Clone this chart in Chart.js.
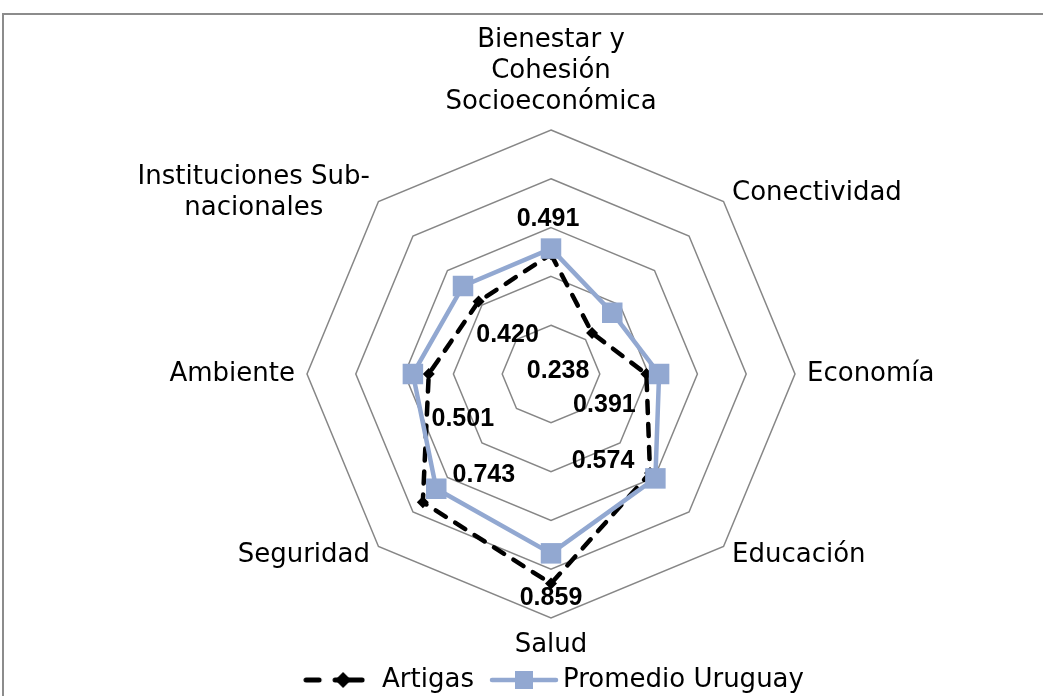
<!DOCTYPE html>
<html lang="es">
<head>
<meta charset="utf-8">
<title>Artigas vs Promedio Uruguay</title>
<script src="https://cdn.jsdelivr.net/npm/chart.js@4/dist/chart.umd.min.js"></script>
<style>
  html, body { margin: 0; padding: 0; background: #fff; overflow: hidden; }
  #chart { display: block; }
</style>
</head>
<body>
<canvas id="chart" width="1043" height="696"></canvas>
<script>
// Datos
const CATEGORIES = [
    ['Bienestar y', 'Cohesión', 'Socioeconómica'],
    'Conectividad',
    'Economía',
    'Educación',
    'Salud',
    'Seguridad',
    'Ambiente',
    ['Instituciones Sub-', 'nacionales']
];
const SERIES_NAMES = ['Artigas', 'Promedio Uruguay'];
const ARTIGAS = [0.491, 0.238, 0.391, 0.574, 0.859, 0.743, 0.501, 0.420];
const PROMEDIO_URUGUAY = [0.514, 0.355, 0.443, 0.605, 0.735, 0.665, 0.566, 0.510];
const SCALE_TICKS = [0, 0.2, 0.4, 0.6, 0.8, 1];

// Estilos
const TEXT_COLOR = '#000';
const GRID_COLOR = '#868686';
const BLUE = '#92A8D1';
const LABEL_FONT = { family: '"DejaVu Sans", sans-serif', size: 26, lineHeight: '31px' };
const LABEL_PAD = 12;
// desplazamiento (px) de cada etiqueta de valor respecto a su marcador
const VALUE_OFFSETS = [[-3, -35], [-34, 38], [-42, 31], [-47, -12], [0, 15], [61, -27], [34, 45], [29, 34]];

// Muestras de la leyenda: línea + marcador
function legendSample(width, draw) {
    const c = document.createElement('canvas');
    c.width = width;
    c.height = 26;
    draw(c.getContext('2d'));
    return c;
}
const LEGEND_SAMPLES = [
    legendSample(62, (g) => {
        g.strokeStyle = '#000';
        g.lineWidth = 5;
        g.lineCap = 'round';
        g.beginPath();
        g.moveTo(3, 13); g.lineTo(16, 13);
        g.moveTo(32, 13); g.lineTo(59, 13);
        g.stroke();
        g.fillStyle = '#000';
        g.beginPath();
        g.moveTo(40, 5); g.lineTo(48, 13); g.lineTo(40, 21); g.lineTo(32, 13);
        g.closePath();
        g.fill();
    }),
    // lienzo más ancho, dibujo desplazado a la derecha para separarlo de "Artigas"
    legendSample(90, (g) => {
        g.strokeStyle = BLUE;
        g.lineWidth = 4.5;
        g.lineCap = 'round';
        g.beginPath();
        g.moveTo(22, 13); g.lineTo(86, 13);
        g.stroke();
        g.fillStyle = BLUE;
        g.fillRect(45, 4, 18, 18);
    })
];

// Fondo blanco y marco gris
const frame = {
    id: 'frame',
    beforeDraw(chart) {
        const { ctx } = chart;
        ctx.save();
        ctx.fillStyle = '#fff';
        ctx.fillRect(0, 0, chart.width, chart.height);
        ctx.strokeStyle = '#8c8c8c';
        ctx.lineWidth = 2;
        ctx.strokeRect(3, 14, chart.width + 100, chart.height + 100);
        ctx.restore();
    }
};

// Etiquetas de categoría al estilo Excel (diagonales centradas en vertical)
const categoryLabels = {
    id: 'categoryLabels',
    afterDraw(chart) {
        const scale = chart.scales.r;
        const { ctx } = chart;
        const font = Chart.helpers.toFont(LABEL_FONT);
        ctx.save();
        ctx.font = font.string;
        ctx.fillStyle = TEXT_COLOR;
        ctx.textAlign = 'center';
        ctx.textBaseline = 'middle';
        chart.data.labels.forEach((label, i) => {
            const lines = [].concat(label);
            const p = scale.getPointPosition(i, scale.drawingArea + LABEL_PAD);
            const deg = Math.round(scale.getIndexAngle(i) * 180 / Math.PI) % 360;
            const w = Math.max(...lines.map((l) => ctx.measureText(l).width));
            const h = lines.length * font.lineHeight;
            const left = (deg === 0 || deg === 180) ? p.x - w / 2 : (deg < 180 ? p.x : p.x - w);
            const top = deg === 0 ? p.y - h : (deg === 180 ? p.y : p.y - h / 2);
            lines.forEach((line, j) => {
                ctx.fillText(line, left + w / 2, top + font.lineHeight * (j + 0.5));
            });
        });
        ctx.restore();
    }
};

// Valores de Artigas
const valueLabels = {
    id: 'valueLabels',
    afterDatasetsDraw(chart) {
        const { ctx } = chart;
        const meta = chart.getDatasetMeta(0);
        ctx.save();
        ctx.font = 'bold 25px "Liberation Sans", Arial, sans-serif';
        ctx.fillStyle = TEXT_COLOR;
        ctx.textAlign = 'center';
        ctx.textBaseline = 'middle';
        meta.data.forEach((pt, i) => {
            const [dx, dy] = VALUE_OFFSETS[i];
            ctx.fillText(ARTIGAS[i].toFixed(3), pt.x + dx, pt.y + dy);
        });
        ctx.restore();
    }
};

Chart.defaults.font.family = LABEL_FONT.family;
Chart.defaults.color = TEXT_COLOR;

new Chart(document.getElementById('chart'), {
    type: 'radar',
    data: {
        labels: CATEGORIES,
        datasets: [{
            label: SERIES_NAMES[0],
            data: ARTIGAS,
            borderColor: '#000',
            borderWidth: 4.5,
            borderDash: [12, 11],
            borderCapStyle: 'round',
            fill: false,
            pointStyle: 'rectRot',
            pointRadius: 6,
            pointBackgroundColor: '#000',
            pointBorderWidth: 0,
            order: 1
        }, {
            label: SERIES_NAMES[1],
            data: PROMEDIO_URUGUAY,
            borderColor: BLUE,
            borderWidth: 4.5,
            fill: false,
            pointStyle: 'rect',
            pointRadius: 14.5,
            pointBackgroundColor: BLUE,
            pointBorderWidth: 0,
            order: 0
        }]
    },
    options: {
        responsive: false,
        animation: false,
        layout: { padding: { left: 60, right: 0, top: 25, bottom: -7 } },
        scales: {
            r: {
                min: SCALE_TICKS[0],
                max: SCALE_TICKS[SCALE_TICKS.length - 1],
                ticks: { display: false, stepSize: SCALE_TICKS[1] - SCALE_TICKS[0] },
                angleLines: { display: false },
                grid: { color: GRID_COLOR, lineWidth: 1.5 },
                // sólo sirven para reservar el espacio; se dibujan en categoryLabels
                pointLabels: { display: true, color: 'transparent', font: LABEL_FONT, padding: LABEL_PAD },
                beforeFit(scale) {
                    // reparte el sobrante arriba/abajo en lugar de usar el máximo
                    scale.setCenterPoint = function (l, r, t, b) {
                        this.xCenter += Math.floor((l - r) / 2);
                        this.yCenter += Math.floor((t - b) / 2);
                        this.drawingArea -= Math.max((l + r) / 2, (t + b) / 2);
                    };
                }
            }
        },
        plugins: {
            tooltip: { enabled: false },
            legend: {
                position: 'bottom',
                labels: {
                    usePointStyle: true,
                    pointStyleWidth: 70,
                    padding: 6,
                    color: TEXT_COLOR,
                    font: { size: 26 },
                    sort: (a, b) => a.datasetIndex - b.datasetIndex,
                    generateLabels(chart) {
                        const items = Chart.defaults.plugins.legend.labels.generateLabels(chart);
                        items.forEach((item) => { item.pointStyle = LEGEND_SAMPLES[item.datasetIndex]; });
                        return items;
                    }
                }
            }
        }
    },
    plugins: [frame, categoryLabels, valueLabels]
});
</script>
</body>
</html>
